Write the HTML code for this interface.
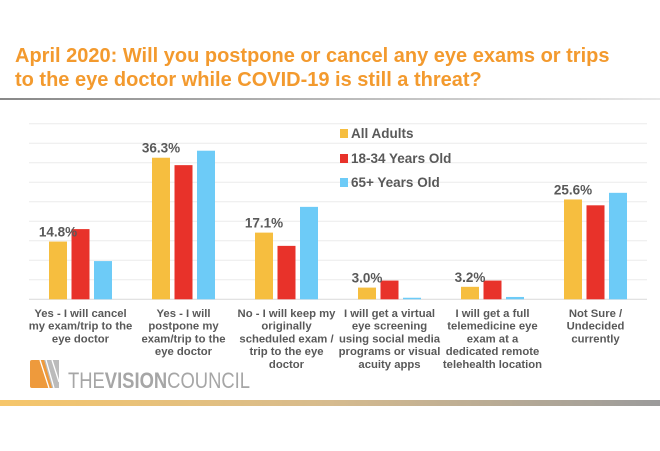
<!DOCTYPE html>
<html><head><meta charset="utf-8"><style>
body{margin:0;background:#fff;width:660px;height:446px;overflow:hidden;font-family:"Liberation Sans",Arial,sans-serif}
</style></head><body>
<svg width="660" height="446" viewBox="0 0 660 446" xmlns="http://www.w3.org/2000/svg">
<defs>
<linearGradient id="hl" x1="0" x2="1"><stop offset="0" stop-color="#888"/><stop offset="1" stop-color="#e8e8e8"/></linearGradient>
<linearGradient id="bb" x1="0" x2="1"><stop offset="0" stop-color="#f6c66a"/><stop offset="0.5" stop-color="#d6bb8e"/><stop offset="1" stop-color="#9b9b9b"/></linearGradient>
</defs>
<text x="15" y="62" font-size="20" font-weight="bold" fill="#F39A2E">April 2020: Will you postpone or cancel any eye exams or trips</text>
<text x="15" y="86" font-size="20" font-weight="bold" fill="#F39A2E">to the eye doctor while COVID-19 is still a threat?</text>
<rect x="0" y="98" width="660" height="2" fill="url(#hl)"/>
<g id="grid"></g>
<g id="bars"></g>
<g id="labels"></g>
<g id="cats"></g>
<g>
<rect x="340" y="129" width="8" height="9" fill="#F6BE3F"/>
<text x="351" y="138" font-size="13.5" font-weight="bold" fill="#595959">All Adults</text>
<rect x="340" y="154" width="8" height="9" fill="#E8322A"/>
<text x="351" y="163" font-size="13.5" font-weight="bold" fill="#595959">18-34 Years Old</text>
<rect x="340" y="178" width="8" height="9" fill="#6DCBF7"/>
<text x="351" y="187" font-size="13.5" font-weight="bold" fill="#595959">65+ Years Old</text>
</g>
<g>
<rect x="30" y="360" width="29" height="28" rx="2" fill="#EE9A3C"/>
<polygon points="44,360 59,360 59,388 52,388" fill="#bbb"/>
<line x1="40" y1="360" x2="49" y2="388" stroke="#fff" stroke-width="1.3"/>
<line x1="46" y1="360" x2="54" y2="388" stroke="#fff" stroke-width="1.3"/>
<line x1="52" y1="360" x2="59" y2="382" stroke="#fff" stroke-width="1.3"/>
<text x="68" y="388" font-size="22" fill="#a6a6a6" textLength="182" lengthAdjust="spacingAndGlyphs">THE<tspan font-weight="bold">VISION</tspan>COUNCIL</text>
</g>
<rect x="0" y="400" width="660" height="6" fill="url(#bb)"/>
</svg>
<script>
const categories=[["Yes - I will cancel","my exam/trip to the","eye doctor"],["Yes - I will","postpone my","exam/trip to the","eye doctor"],["No - I will keep my","originally","scheduled exam /","trip to the eye","doctor"],["I will get a virtual","eye screening","using social media","programs or visual","acuity apps"],["I will get a full","telemedicine eye","exam at a","dedicated remote","telehealth location"],["Not Sure /","Undecided","currently"]];
const allAdults=[14.8,36.3,17.1,3.0,3.2,25.6];
const age1834=[18.0,34.4,13.7,4.8,4.8,24.1];
const age65=[9.8,38.1,23.7,0.4,0.6,27.3];
const valueLabels=["14.8%","36.3%","17.1%","3.0%","3.2%","25.6%"];
const gridTicks=[0,5,10,15,20,25,30,35,40,45];
const ns="http://www.w3.org/2000/svg";
const plotL=29,plotR=647,base=299.3,pxPer=3.9;
const gw=(plotR-plotL)/categories.length;
const y=v=>base-v*pxPer;
const cx=i=>plotL+gw*(i+0.5);
function mk(t,a,p){const e=document.createElementNS(ns,t);for(const k in a)e.setAttribute(k,a[k]);p.appendChild(e);return e;}
const G=document.getElementById('grid');
gridTicks.forEach(t=>{const l=mk('line',{x1:plotL,x2:plotR,y1:y(t),y2:y(t),stroke:t===0?'#d9d9d9':'#ececec','stroke-width':1},G);

});
const B=document.getElementById('bars');
const series=[[allAdults,'#F6BE3F','bar-all-adults'],[age1834,'#E8322A','bar-18-34'],[age65,'#6DCBF7','bar-65-plus']];
series.forEach((s,si)=>{s[0].forEach((v,i)=>{const x=cx(i)+(si-1)*22.5-9;
const r=mk('rect',{x:x,y:y(v),width:18,height:base-y(v),fill:s[1]},B);

});});
const L=document.getElementById('labels');
valueLabels.forEach((t,i)=>{const e=mk('text',{x:cx(i)-22.5,y:y(allAdults[i])-5,'font-size':13.5,'font-weight':'bold',fill:'#595959','text-anchor':'middle'},L);e.textContent=t;

});
const C=document.getElementById('cats');
categories.forEach((lines,i)=>{lines.forEach((ln,j)=>{const e=mk('text',{x:cx(i),y:317+j*12.7,'font-size':11.3,'font-weight':'bold',fill:'#595959','text-anchor':'middle'},C);e.textContent=ln;

});});
</script>
</body></html>
